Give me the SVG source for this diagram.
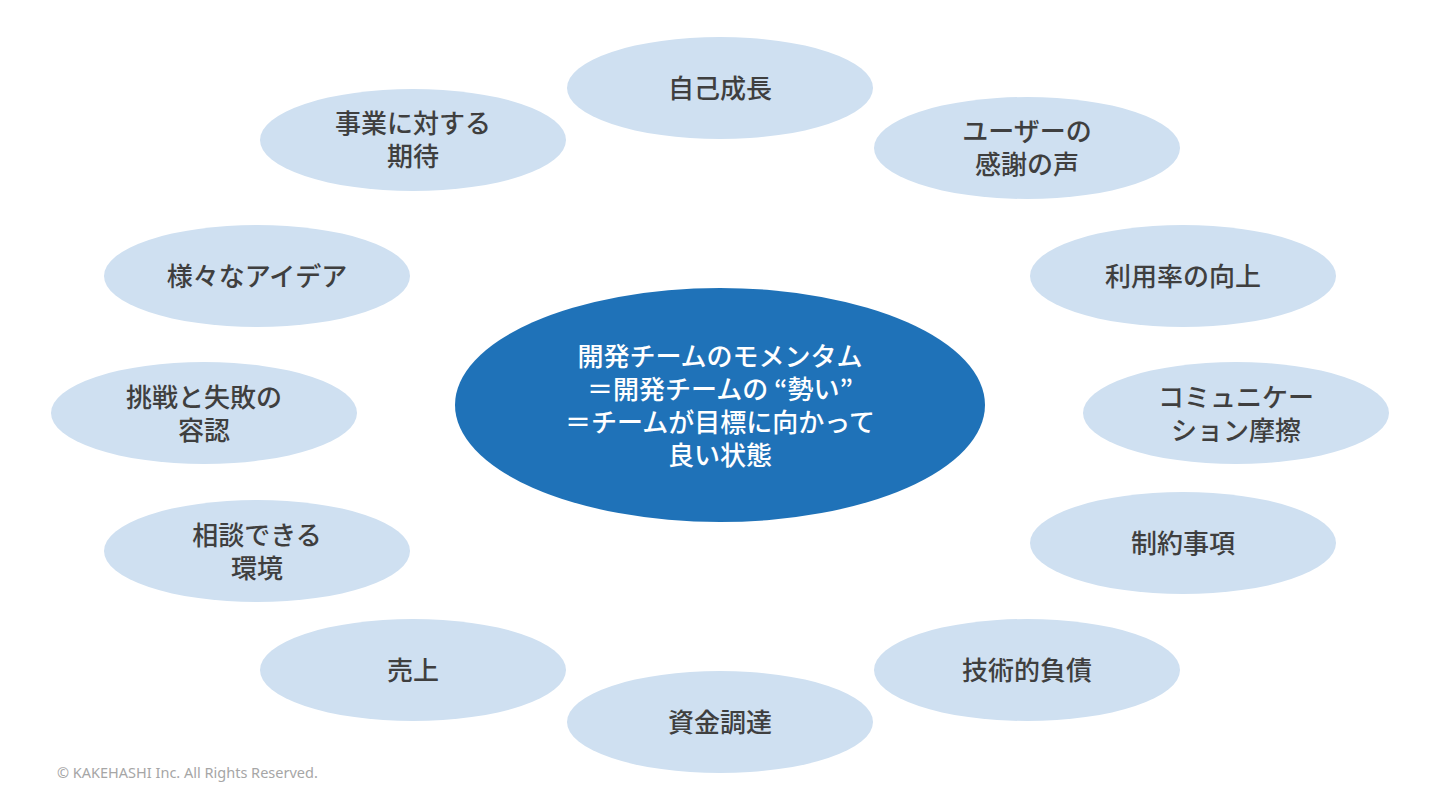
<svg xmlns="http://www.w3.org/2000/svg" width="1440" height="810" viewBox="0 0 1440 810">
<style>
.n{fill:#cfe0f1}
.c{fill:#1f72b8}
.t{font-family:"Noto Sans CJK JP","Noto Sans",sans-serif;font-size:26px;fill:#3f3f3f;text-anchor:middle;dominant-baseline:central;font-weight:500}
.w{font-family:"Noto Sans CJK JP","Noto Sans",sans-serif;font-size:26px;fill:#ffffff;text-anchor:middle;dominant-baseline:central;font-weight:500}
.cp{font-family:"Noto Sans","DejaVu Sans",sans-serif;font-size:14.5px;fill:#a6a6a6}
</style>
<rect width="1440" height="810" fill="#ffffff"/>
<g id="connectors"></g>
<g id="n-center"><ellipse class="c" cx="720" cy="405" rx="265" ry="117"/>
<text class="w" x="720" y="354">開発チームのモメンタム</text>
<text class="w" x="720" y="387">＝開発チームの “勢い”</text>
<text class="w" x="720" y="420">＝チームが目標に向かって</text>
<text class="w" x="720" y="453">良い状態</text></g>
<g id="n1"><ellipse class="n" cx="720" cy="88" rx="153" ry="51"/><text class="t" x="720" y="86">自己成長</text></g>
<g id="n2"><ellipse class="n" cx="413" cy="140" rx="153" ry="51"/><text class="t" x="413" y="121">事業に対する</text><text class="t" x="413" y="154">期待</text></g>
<g id="n3"><ellipse class="n" cx="1027" cy="148" rx="153" ry="51"/><text class="t" x="1027" y="129">ユーザーの</text><text class="t" x="1027" y="162">感謝の声</text></g>
<g id="n4"><ellipse class="n" cx="257" cy="276" rx="153" ry="51"/><text class="t" x="257" y="274">様々なアイデア</text></g>
<g id="n5"><ellipse class="n" cx="1183" cy="276" rx="153" ry="51"/><text class="t" x="1183" y="274">利用率の向上</text></g>
<g id="n6"><ellipse class="n" cx="204" cy="413" rx="153" ry="51"/><text class="t" x="204" y="395">挑戦と失敗の</text><text class="t" x="204" y="428">容認</text></g>
<g id="n7"><ellipse class="n" cx="1236" cy="413" rx="153" ry="51"/><text class="t" x="1236" y="395">コミュニケー</text><text class="t" x="1236" y="428">ション摩擦</text></g>
<g id="n8"><ellipse class="n" cx="257" cy="551" rx="153" ry="51"/><text class="t" x="257" y="533">相談できる</text><text class="t" x="257" y="566">環境</text></g>
<g id="n9"><ellipse class="n" cx="1183" cy="543" rx="153" ry="51"/><text class="t" x="1183" y="541">制約事項</text></g>
<g id="n10"><ellipse class="n" cx="413" cy="670" rx="153" ry="51"/><text class="t" x="413" y="668">売上</text></g>
<g id="n11"><ellipse class="n" cx="1027" cy="670" rx="153" ry="51"/><text class="t" x="1027" y="668">技術的負債</text></g>
<g id="n12"><ellipse class="n" cx="720" cy="722" rx="153" ry="51"/><text class="t" x="720" y="720">資金調達</text></g>
<text class="cp" x="57" y="778">© KAKEHASHI Inc. All Rights Reserved.</text>
</svg>
